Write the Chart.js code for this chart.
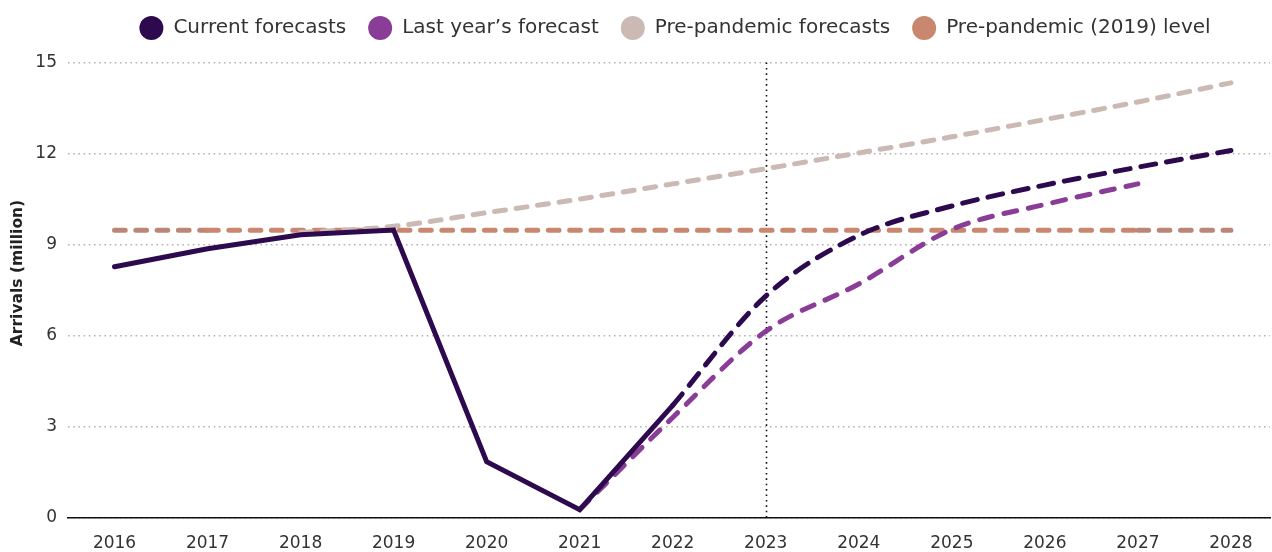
<!DOCTYPE html>
<html>
<head>
<meta charset="utf-8">
<title>Arrivals</title>
<script src="https://cdn.jsdelivr.net/npm/chart.js@4.4.1/dist/chart.umd.min.js"></script>
<style>
  html, body { margin: 0; padding: 0; background: #ffffff; }
  #wrap { width: 1272px; height: 552px; position: relative; }
</style>
</head>
<body>
<div id="wrap"><canvas id="chart"></canvas></div>
<script>
// Year axis and value ticks
const years = [2016, 2017, 2018, 2019, 2020, 2021, 2022, 2023, 2024, 2025, 2026, 2027, 2028];
const valueTicks = [0, 3, 6, 9, 12, 15];
const markerYear = 2023;

// Recorded arrivals (million)
const actualYears = [2016, 2017, 2018, 2019, 2020, 2021, 2022];
const actualArrivals = [8.27, 8.86, 9.32, 9.48, 1.84, 0.26, 3.7];

// Current forecasts
const currentYears = [2022, 2023, 2024, 2025, 2026, 2027, 2028];
const currentForecast = [3.7, 7.3, 9.3, 10.27, 10.96, 11.55, 12.1];

// Last year's forecast
const lastYearYears = [2021, 2022, 2023, 2024, 2025, 2026, 2027];
const lastYearForecast = [0.26, 3.3, 6.14, 7.7, 9.5, 10.32, 11.0];

// Pre-pandemic forecasts
const preYears = [2018, 2019, 2020, 2021, 2022, 2023, 2024, 2025, 2026, 2027, 2028];
const preForecast = [9.4, 9.6, 10.05, 10.5, 11.0, 11.5, 12.02, 12.55, 13.12, 13.7, 14.33];

// Pre-pandemic (2019) level
const levelYears = [2016, 2017, 2018, 2019, 2020, 2021, 2022, 2023, 2024, 2025, 2026, 2027, 2028];
const level2019 = [9.47, 9.47, 9.47, 9.47, 9.47, 9.47, 9.47, 9.47, 9.47, 9.47, 9.47, 9.47, 9.47];

const FONT = 'DejaVu Sans';
const C_CURRENT = '#2d0a4e';
const C_LAST = '#8a3d97';
const C_PRE = '#cbbab3';
const C_LEVEL = '#c9876f';
const C_LEVEL_END = '#bc8676';

const pts = (xs, ys) => xs.map((x, i) => ({ x: x, y: ys[i] }));

// Vertical dotted marker at the current year
const markerLine = {
  id: 'markerLine',
  beforeDatasetsDraw(chart) {
    const { ctx, chartArea, scales } = chart;
    const px = Math.round(scales.x.getPixelForValue(markerYear)) + 0.5;
    ctx.save();
    ctx.strokeStyle = '#111111';
    ctx.lineWidth = 1.6;
    ctx.setLineDash([1.6, 3.8]);
    ctx.beginPath();
    ctx.moveTo(px, chartArea.top);
    ctx.lineTo(px, chartArea.bottom);
    ctx.stroke();
    ctx.restore();
  }
};

// Vertical axis title, centred on the canvas height
const axisTitle = {
  id: 'axisTitle',
  afterDraw(chart) {
    const { ctx } = chart;
    ctx.save();
    ctx.translate(18, chart.height / 2 - 3);
    ctx.rotate(-Math.PI / 2);
    ctx.font = 'bold 15.5px "' + FONT + '"';
    ctx.fillStyle = '#222222';
    ctx.textAlign = 'center';
    ctx.textBaseline = 'middle';
    ctx.fillText('Arrivals (million)', 0, 0);
    ctx.restore();
  }
};

// Legend centred over the plot area, with a gap below it
const legendLayout = {
  id: 'legendLayout',
  beforeInit(chart) {
    Chart.layouts.addBox(chart, {
      position: 'top',
      weight: 0,
      fullSize: true,
      options: {},
      width: 0,
      height: 0,
      isHorizontal() { return true; },
      update(maxWidth) { this.width = maxWidth; this.height = 14.5; return this.height; },
      draw() {}
    });
  },
  afterLayout(chart) {
    const lg = chart.legend;
    if (!lg) return;
    lg.left = chart.chartArea.left + 6;
    lg.right = chart.chartArea.right + 6;
  }
};

const dashed = (color, dash) => ({
  borderColor: color,
  backgroundColor: color,
  borderWidth: 5,
  borderDash: dash,
  borderCapStyle: 'round',
  pointRadius: 0,
  fill: false,
  cubicInterpolationMode: 'monotone'
});

new Chart(document.getElementById('chart'), {
  type: 'line',
  data: {
    datasets: [
      Object.assign({ label: 'Arrivals', data: pts(actualYears, actualArrivals) }, {
        borderColor: C_CURRENT, backgroundColor: C_CURRENT, borderWidth: 5,
        borderCapStyle: 'round', pointRadius: 0, fill: false, tension: 0
      }),
      Object.assign({ label: 'Current forecasts', data: pts(currentYears, currentForecast) }, dashed(C_CURRENT, [15, 11])),
      Object.assign({ label: 'Last year\u2019s forecast', data: pts(lastYearYears, lastYearForecast) }, dashed(C_LAST, [13, 12])),
      Object.assign({ label: 'Pre-pandemic forecasts', data: pts(preYears, preForecast) }, dashed(C_PRE, [11, 10.7])),
      Object.assign({ label: 'Pre-pandemic (2019) level', data: pts(levelYears, level2019) }, dashed(C_LEVEL, [10.7, 10.6]), {
        cubicInterpolationMode: 'default', tension: 0,
        segment: {
          borderColor: c => (c.p0DataIndex === 0 || c.p1DataIndex === level2019.length - 1) ? C_LEVEL_END : undefined
        }
      })
    ]
  },
  options: {
    responsive: true,
    maintainAspectRatio: false,
    animation: false,
    layout: { padding: { left: 0, right: 2, top: -4, bottom: -18 } },
    plugins: {
      tooltip: { enabled: false },
      legend: {
        position: 'top',
        align: 'center',
        labels: {
          usePointStyle: true,
          pointStyle: 'circle',
          pointStyleWidth: 24,
          boxHeight: 17,
          padding: 22,
          color: '#333333',
          font: { family: FONT, size: 20 },
          filter: item => item.datasetIndex !== 0,
          generateLabels: chart => Chart.defaults.plugins.legend.labels.generateLabels(chart)
            .map(it => Object.assign(it, { lineWidth: 0, lineDash: [], strokeStyle: 'rgba(0,0,0,0)' }))
        }
      }
    },
    scales: {
      x: {
        type: 'linear',
        min: 2015.5,
        max: 2028.42,
        afterBuildTicks: s => { s.ticks = years.map(v => ({ value: v })); },
        grid: { display: false, drawTicks: false },
        border: { display: true, color: '#111111', width: 1.6 },
        ticks: {
          autoSkip: false, maxRotation: 0, padding: 16,
          color: '#333333', font: { family: FONT, size: 17 },
          callback: v => String(v)
        }
      },
      y: {
        min: 0,
        max: 15,
        afterBuildTicks: s => { s.ticks = valueTicks.map(v => ({ value: v })); },
        afterFit: s => { s.width = 68; },
        grid: { color: '#b3b3b3', lineWidth: 1.6, drawTicks: false },
        border: { display: false, dash: [1.6, 3.6] },
        ticks: {
          padding: 11,
          color: '#333333', font: { family: FONT, size: 17 }
        }
      }
    }
  },
  plugins: [markerLine, axisTitle, legendLayout]
});
</script>
</body>
</html>
